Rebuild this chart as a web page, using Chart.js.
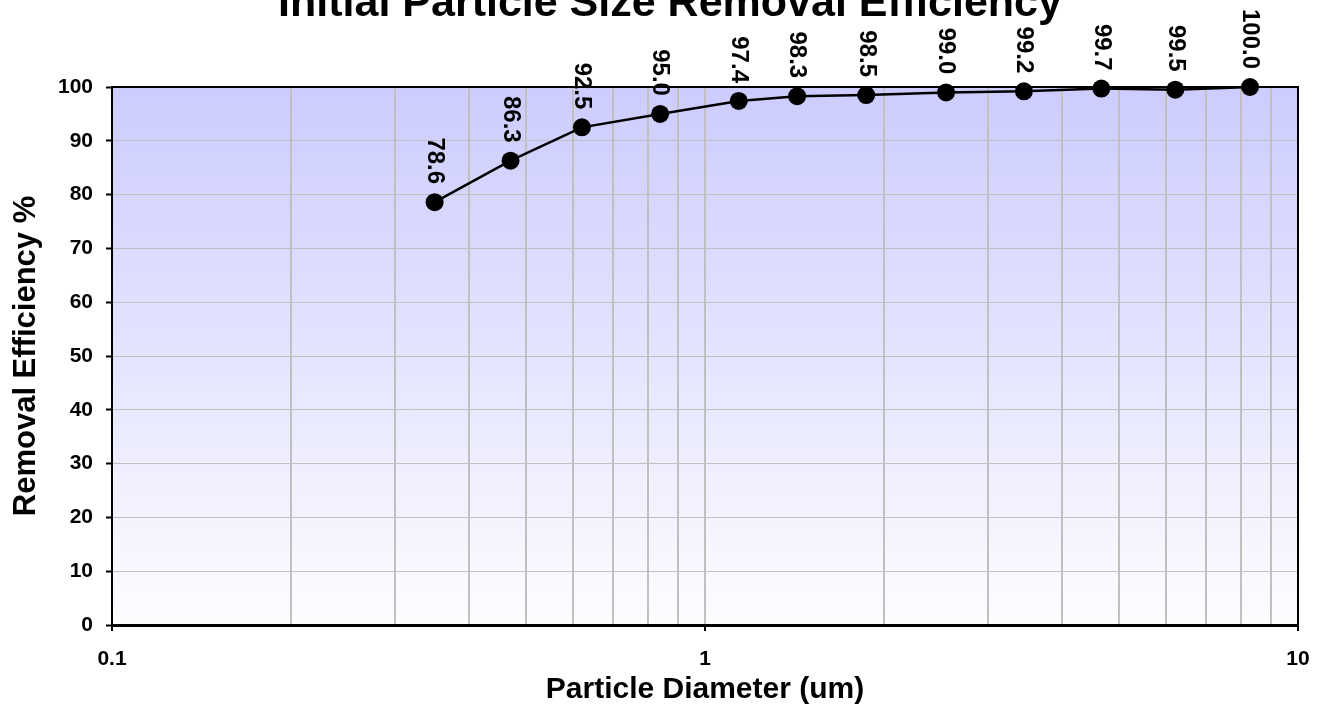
<!DOCTYPE html>
<html>
<head>
<meta charset="utf-8">
<script src="https://cdn.jsdelivr.net/npm/chart.js@4/dist/chart.umd.min.js"></script>
<style>
    body { margin: 0; background: #ffffff; }
    #wrap { width: 1323px; height: 713px; position: relative; }
</style>
</head>
<body>
<div id="wrap"><canvas id="effChart"></canvas></div>
<script>
// Particle diameter (um) and removal efficiency (%)
const diameters = [0.35, 0.47, 0.62, 0.84, 1.14, 1.43, 1.87, 2.55, 3.45, 4.66, 6.21, 8.3];
const efficiency = [78.6, 86.3, 92.5, 95.0, 97.4, 98.3, 98.5, 99.0, 99.2, 99.7, 99.5, 100.0];
const decadeTicks = [0.1, 1, 10];
const yTicks = [0, 10, 20, 30, 40, 50, 60, 70, 80, 90, 100];

const chartTitle = 'Initial Particle Size Removal Efficiency';
const xTitle = 'Particle Diameter (um)';
const yTitle = 'Removal Efficiency %';

const FONT = '"Liberation Sans", Arial, sans-serif';

function isDecade(v) {
    const l = Math.log10(v);
    return Math.abs(l - Math.round(l)) < 1e-6;
}

// shaded plot background, frame, rotated value labels and the clipped title
const chartDecor = {
    id: 'chartDecor',
    beforeDraw(chart) {
        const { ctx, chartArea: a } = chart;
        const g = ctx.createLinearGradient(0, a.top, 0, a.bottom);
        g.addColorStop(0, '#ccccff');
        g.addColorStop(1, '#fdfdff');
        ctx.save();
        ctx.fillStyle = g;
        ctx.fillRect(a.left, a.top, a.right - a.left, a.bottom - a.top);
        ctx.restore();
    },
    afterDatasetsDraw(chart) {
        const { ctx } = chart;
        const meta = chart.getDatasetMeta(0);
        ctx.save();
        ctx.font = 'bold 24px ' + FONT;
        ctx.fillStyle = '#000';
        ctx.textAlign = 'right';
        ctx.textBaseline = 'middle';
        meta.data.forEach((pt, i) => {
            ctx.save();
            ctx.translate(pt.x, pt.y - 18);
            ctx.rotate(Math.PI / 2);
            ctx.fillText(efficiency[i].toFixed(1), 0, 0);
            ctx.restore();
        });
        ctx.restore();
    },
    afterDraw(chart) {
        const { ctx, chartArea: a } = chart;
        ctx.save();
        ctx.strokeStyle = '#000';
        ctx.lineWidth = 2;
        ctx.beginPath();
        ctx.moveTo(a.left, a.top);
        ctx.lineTo(a.right, a.top);
        ctx.lineTo(a.right, a.bottom);
        ctx.stroke();
        ctx.font = 'bold 43px ' + FONT;
        ctx.fillStyle = '#000';
        ctx.textAlign = 'center';
        ctx.textBaseline = 'alphabetic';
        ctx.fillText(chartTitle, 670, 16);
        ctx.restore();
    }
};

const ctx = document.getElementById('effChart').getContext('2d');
new Chart(ctx, {
    type: 'line',
    data: {
        datasets: [{
            data: diameters.map((d, i) => ({ x: d, y: efficiency[i] })),
            borderColor: '#000',
            borderWidth: 2.5,
            backgroundColor: '#000',
            pointRadius: 9,
            pointHoverRadius: 9,
            pointBorderWidth: 0,
            tension: 0,
            clip: false
        }]
    },
    options: {
        responsive: true,
        maintainAspectRatio: false,
        animation: false,
        events: [],
        layout: { padding: { top: 87, right: 25, bottom: 0, left: 0 } },
        plugins: {
            legend: { display: false },
            tooltip: { enabled: false },
            title: { display: false }
        },
        scales: {
            x: {
                type: 'logarithmic',
                min: 0.1,
                max: 10,
                afterBuildTicks: (s) => {
                    const vals = [];
                    for (let k = 0; k < decadeTicks.length - 1; k++) {
                        for (let m = 1; m < 10; m++) vals.push(decadeTicks[k] * m);
                    }
                    vals.push(decadeTicks[decadeTicks.length - 1]);
                    s.ticks = vals.map(v => ({ value: v }));
                },
                afterFit: (s) => {
                    s.height = 88;
                    s.paddingLeft = 0;
                    s.paddingRight = 0;
                },
                grid: {
                    color: '#c0c0c0',
                    lineWidth: 2,
                    tickLength: 6,
                    tickColor: (c) => (c.tick && isDecade(c.tick.value)) ? '#000' : 'rgba(0,0,0,0)',
                    tickWidth: 2
                },
                border: { color: '#000', width: 3 },
                ticks: {
                    autoSkip: false,
                    maxRotation: 0,
                    padding: 16,
                    color: '#000',
                    font: { family: FONT, size: 21, weight: 'bold' },
                    callback: (v) => isDecade(v) ? String(Math.round(v * 10) / 10) : ''
                },
                title: {
                    display: true,
                    text: xTitle,
                    color: '#000',
                    font: { family: FONT, size: 30, weight: 'bold' },
                    padding: { top: 0, bottom: 5 }
                }
            },
            y: {
                min: 0,
                max: 100,
                afterBuildTicks: (s) => { s.ticks = yTicks.map(v => ({ value: v })); },
                afterFit: (s) => { s.width = 112; },
                grid: {
                    color: '#c0c0c0',
                    lineWidth: 1,
                    tickLength: 6,
                    tickColor: '#000',
                    tickWidth: 2
                },
                border: { color: '#000', width: 2 },
                ticks: {
                    padding: 13,
                    color: '#000',
                    font: { family: FONT, size: 21, weight: 'bold' }
                },
                title: {
                    display: true,
                    text: yTitle,
                    color: '#000',
                    font: { family: FONT, size: 31, weight: 'bold' },
                    padding: { top: 8, bottom: 0 }
                }
            }
        }
    },
    plugins: [chartDecor]
});
</script>
</body>
</html>
